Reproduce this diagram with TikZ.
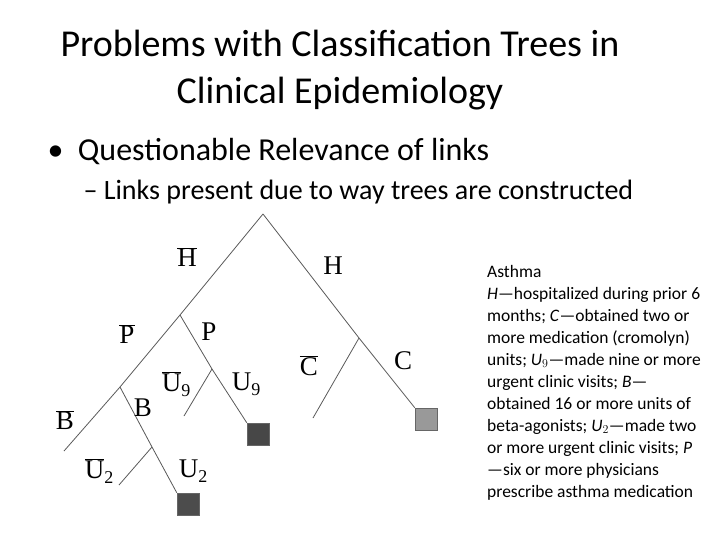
\documentclass[tikz,border=0pt]{standalone}
\usepackage{fontspec}
\setmainfont{Carlito}
\newfontfamily\treefont{Liberation Serif}
\newcommand{\ob}[1]{\ensuremath{\overline{\mbox{\treefont #1}}}}
\begin{document}
\begin{tikzpicture}[x=1pt,y=-1pt,
  br/.style={draw=black!65,line width=0.8pt},
  lbl/.style={font=\treefont\fontsize{27}{27}\selectfont,inner sep=0pt},
  sb/.style={},
  leafbox/.style={draw=black!60,minimum size=22pt,inner sep=0pt},
  rt/.style={anchor=base west,inner sep=0pt,font=\fontsize{17.5}{18}\selectfont}]
\useasboundingbox (0,0) rectangle (720,540);
\node[font=\fontsize{38}{47}\selectfont,align=center] (title) at (340,70) {Problems with Classification Trees in\\Clinical Epidemiology};
\node[anchor=west,font=\fontsize{32}{36}\selectfont] (b1) at (44,152) {\textbullet\ \ Questionable Relevance of links};
\node[anchor=west,font=\fontsize{28}{32}\selectfont] (b2) at (80,192) {– Links present due to way trees are constructed};
% tree
\coordinate (root) at (263,214);
\coordinate (h) at (180,315);
\coordinate (pb) at (120,387);
\coordinate (bb) at (64,451);
\coordinate (u2) at (152,447);
\coordinate (u2b) at (119,485);
\node[leafbox,fill=black!70] (box2) at (188,504) {};
\coordinate (u9) at (212,369);
\coordinate (u9b) at (184,416);
\node[leafbox,fill=black!72] (box9) at (258,434) {};
\coordinate (c) at (359,338);
\coordinate (cb) at (313,418);
\node[leafbox,fill=black!40] (boxc) at (426,419) {};
\draw[br] (root) -- (h) -- (pb) -- (bb);
\draw[br] (pb) -- (u2) -- (box2.north west);
\draw[br] (u2) -- (u2b);
\draw[br] (h) -- (u9) -- (box9.north west);
\draw[br] (u9) -- (u9b);
\draw[br] (root) -- (c) -- (boxc.north west);
\draw[br] (c) -- (cb);
\node[lbl] (lhb) at (187,257) {\ob{H}};
\node[lbl] (lh) at (333,266) {H};
\node[lbl] (lpb) at (127,334) {\ob{P}};
\node[lbl] (lp) at (209,332) {P};
\node[lbl] (lu9b) at (176,384) {\ob{U}\raisebox{-5pt}{\fontsize{18}{18}\selectfont 9}};
\node[lbl] (lu9) at (246,384) {U\raisebox{-5pt}{\fontsize{18}{18}\selectfont 9}};
\node[lbl] (lcb) at (309,366) {\ob{C}};
\node[lbl] (lc) at (403,361) {C};
\node[lbl] (lbb) at (65,420) {\ob{B}};
\node[lbl] (lb) at (143,408) {B};
\node[lbl] (lu2b) at (99,471) {\ob{U}\raisebox{-5pt}{\fontsize{18}{18}\selectfont 2}};
\node[lbl] (lu2) at (193,471) {U\raisebox{-5pt}{\fontsize{18}{18}\selectfont 2}};
% right text
\node[rt] (t1) at (487,277) {Asthma};
\node[rt] (t2) at (487,299) {\textit{H}—hospitalized during prior 6};
\node[rt] (t3) at (487,321) {months; \textit{C}—obtained two or};
\node[rt] (t4) at (487,343) {more medication (cromolyn)};
\node[rt] (t5) at (487,365) {units; \textit{U}$_9$—made nine or more};
\node[rt] (t6) at (487,387) {urgent clinic visits; \textit{B}—};
\node[rt] (t7) at (487,409) {obtained 16 or more units of};
\node[rt] (t8) at (487,431) {beta-agonists; \textit{U}$_2$—made two};
\node[rt] (t9) at (487,453) {or more urgent clinic visits; \textit{P}};
\node[rt] (t10) at (487,475) {—six or more physicians};
\node[rt] (t11) at (487,497) {prescribe asthma medication};
\end{tikzpicture}
\end{document}
